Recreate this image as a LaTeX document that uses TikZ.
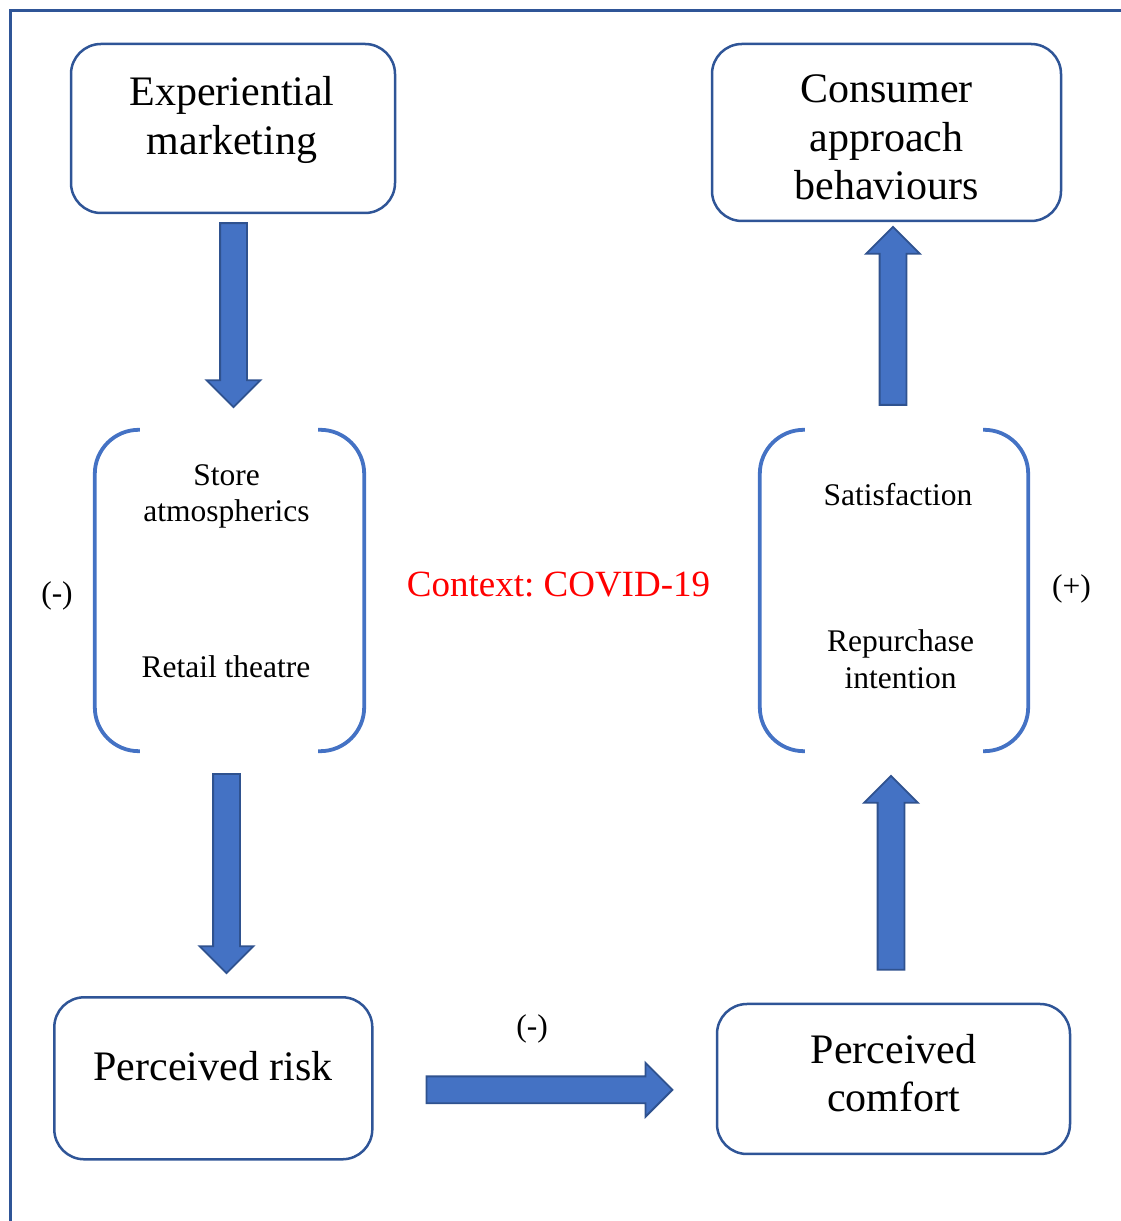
\documentclass[tikz,border=0pt]{standalone}
\usepackage{fontspec}
\setmainfont{Liberation Serif}
\usepackage{tikz}
\usetikzlibrary{calc,positioning,shapes.arrows}
\definecolor{boxline}{HTML}{2F5597}
\definecolor{arrowfill}{HTML}{4472C4}
\definecolor{arrowline}{HTML}{2F528F}
\definecolor{bracket}{HTML}{4472C4}
\newcommand{\bigtxt}{\fontsize{42}{48.5}\selectfont}
\newcommand{\smalltxt}{\fontsize{31.5}{36.5}\selectfont}
\frenchspacing

\begin{document}
\begin{tikzpicture}[x=1pt,y=1pt,
  box/.style={draw=boxline,line width=2.5pt,rounded corners=30pt,inner sep=0pt},
  bigtext/.style={font=\bigtxt,align=center,inner sep=0pt},
  smalltext/.style={font=\smalltxt,align=center,inner sep=0pt},
  group/.style={inner sep=0pt},
  paren/.style={draw=bracket,line width=3.8pt,rounded corners=44pt},
  blockarrow/.style={single arrow,draw=arrowline,fill=arrowfill,line width=1.8pt,
    inner xsep=0pt,inner ysep=12.5pt,single arrow head extend=13.5pt,single arrow tip angle=90}]
\useasboundingbox (0,0) rectangle (1121,1221);
% frame
\draw[boxline,line width=3pt] (10,1210) rectangle (1140,-20);

% boxes
\node[box,minimum width=324pt,minimum height=169pt] (em) at (233,1092.5) {};
\node[box,minimum width=349pt,minimum height=177pt] (cab) at (886.5,1088.5) {};
\node[box,minimum width=318pt,minimum height=162pt] (pr) at (213.3,142.7) {};
\node[box,minimum width=353pt,minimum height=150pt] (pc) at (893.5,142) {};
\node[bigtext] (emtext) at (232,1100.8) {Experiential\\marketing};
\node[bigtext] (cabtext) at (886.5,1083.5) {Consumer\\approach\\behaviours};
\node[bigtext,anchor=base] (prtext) at (213,140) {Perceived risk};
\node[bigtext] (pctext) at (893.5,148.1) {Perceived\\comfort};

% bracketed groups
\node[group,minimum width=269pt,minimum height=321pt] (lg) at (229.5,630.5) {};
\node[group,minimum width=268pt,minimum height=321pt] (rg) at (894,630.5) {};
\draw[paren] ([xshift=45pt]lg.north west) -- (lg.north west) -- (lg.south west) -- ([xshift=45pt]lg.south west);
\draw[paren] ([xshift=-46pt]lg.north east) -- (lg.north east) -- (lg.south east) -- ([xshift=-46pt]lg.south east);
\draw[paren] ([xshift=45pt]rg.north west) -- (rg.north west) -- (rg.south west) -- ([xshift=45pt]rg.south west);
\draw[paren] ([xshift=-45pt]rg.north east) -- (rg.north east) -- (rg.south east) -- ([xshift=-45pt]rg.south east);
\node[smalltext] (store) at (226.5,724.7) {Store\\atmospherics};
\node[smalltext,anchor=base] (theatre) at (226,543) {Retail theatre};
\node[smalltext,anchor=base] (satis) at (898,715) {Satisfaction};
\node[smalltext] (repur) at (900.5,561.7) {Repurchase\\intention};

% signs and context
\node[smalltext,anchor=base] (signl) at (57,617) {(-)};
\node[smalltext,anchor=base] (signr) at (1071.5,624) {(+)};
\node[smalltext,anchor=base] (signb) at (532,184) {(-)};
\node[font=\fontsize{37}{44}\selectfont,text=red,anchor=base,inner sep=0pt] (context) at (558.5,624) {Context: COVID-19};

% block arrows
\node[blockarrow,rotate=-90,minimum height=184pt,anchor=tail] (a1) at ([xshift=0.5pt,yshift=-8pt]em.south) {};
\node[blockarrow,rotate=-90,minimum height=199pt,anchor=tail] (a2) at ([xshift=-3pt,yshift=-22pt]lg.south) {};
\node[blockarrow,minimum height=246pt,anchor=tail] (a3) at ([xshift=52pt,yshift=-11.5pt]pr.east) {};
\node[blockarrow,rotate=90,minimum height=194pt,anchor=tail] (a4) at ([xshift=-2.5pt,yshift=32pt]pc.north) {};
\node[blockarrow,rotate=90,minimum height=178pt,anchor=tail] (a5) at ([xshift=-1pt,yshift=24pt]rg.north) {};
\end{tikzpicture}
\end{document}
